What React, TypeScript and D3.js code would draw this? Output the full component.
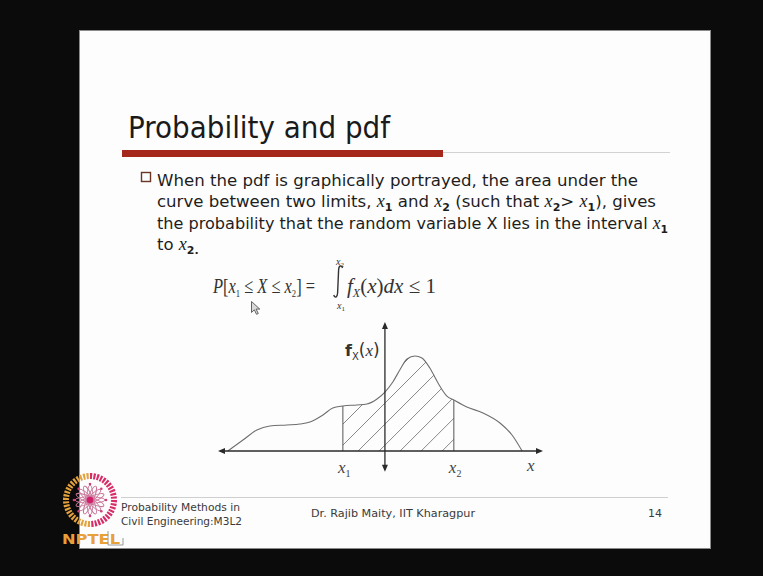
import React from "react";
import * as d3 from "d3";

const W = 763;
const H = 576;

// Density curve samples: position along the x axis and height of f_X(x)
const curveX = [-4.97, -4.49, -4.05, -3.64, -3.1, -2.69, -2.37, -1.96, -1.65, -1.33, -0.89, -0.57, -0.25, 0, 0.25, 0.47, 0.7, 0.95, 1.17, 1.42, 1.68, 1.96, 2.18, 2.59, 3.1, 3.64, 4.02, 4.34];
const curveY = [0, 0.085, 0.163, 0.194, 0.202, 0.209, 0.225, 0.279, 0.333, 0.349, 0.357, 0.364, 0.403, 0.457, 0.535, 0.628, 0.713, 0.736, 0.721, 0.643, 0.527, 0.426, 0.395, 0.341, 0.295, 0.217, 0.124, 0];

// Integration limits
const limitX1 = -1.33;
const limitX2 = 2.18;

// Axis extents (data units)
const axisXDomain = [-5.28, 5];
const axisYDomain = [-0.16, 1];

type Seg = { t: string; math?: boolean; sub?: string };

const titleText = "Probability and pdf";
const bodyLines: Seg[][] = [
  [{ t: "When the pdf is graphically portrayed, the area under the" }],
  [
    { t: "curve between two limits, " },
    { t: "x", math: true, sub: "1" },
    { t: " and " },
    { t: "x", math: true, sub: "2" },
    { t: " (such that " },
    { t: "x", math: true, sub: "2" },
    { t: "> " },
    { t: "x", math: true, sub: "1" },
    { t: "), gives" },
  ],
  [
    { t: "the probability that the random variable X lies in the interval " },
    { t: "x", math: true, sub: "1" },
  ],
  [{ t: "to " }, { t: "x", math: true, sub: "2." }],
];
const bodyWidths = [481, 499, 511, 0];

const footerLeft = ["Probability Methods in", "Civil Engineering:M3L2"];
const footerCenter = "Dr. Rajib Maity, IIT Kharagpur";
const pageNumber = "14";

const SANS = "'DejaVu Sans', Verdana, sans-serif";
const SERIF = "'Liberation Serif', 'Times New Roman', serif";

function BodyLine({ segs, x, y, width }: { segs: Seg[]; x: number; y: number; width: number }) {
  const parts: React.ReactNode[] = [];
  let pendingUp = false;
  segs.forEach((s, i) => {
    if (s.math) {
      parts.push(
        <tspan key={i + "m"} fontFamily={SERIF} fontStyle="italic" fontSize={18} dy={pendingUp ? -4 : undefined}>
          {s.t}
        </tspan>
      );
      pendingUp = false;
      if (s.sub) {
        parts.push(
          <tspan key={i + "s"} fontSize={11} fontWeight="bold" dy={4}>
            {s.sub}
          </tspan>
        );
        pendingUp = true;
      }
    } else {
      parts.push(
        <tspan key={i + "t"} dy={pendingUp ? -4 : undefined}>
          {s.t}
        </tspan>
      );
      pendingUp = false;
    }
  });
  return (
    <text
      x={x}
      y={y}
      fontFamily={SANS}
      fontSize={16.5}
      fill="#1e1e1e"
      textLength={width || undefined}
      lengthAdjust={width ? "spacingAndGlyphs" : undefined}
      xmlSpace="preserve"
    >
      {parts}
    </text>
  );
}

function Logo() {
  const cx = 90;
  const cy = 500;
  const segs = d3.range(0, 44);
  const step = (2 * Math.PI) / 44;
  const arc = d3.arc<any>().innerRadius(21).outerRadius(27);
  const petals = d3.range(0, 8);
  return (
    <g>
      <g transform={`translate(${cx},${cy})`}>
        {segs.map((i) => {
          const a0 = i * step;
          const left = a0 >= Math.PI;
          return (
            <path
              key={i}
              d={arc({ startAngle: a0, endAngle: a0 + step * 0.62 }) || ""}
              fill={left ? "#e3a23e" : "#d62c68"}
            />
          );
        })}
        {petals.map((i) => (
          <ellipse
            key={i}
            rx={15}
            ry={3.2}
            fill="none"
            stroke="#c9779a"
            strokeWidth={0.9}
            transform={`rotate(${i * 22.5})`}
          />
        ))}
        {petals.map((i) => {
          const a = (i * 45 * Math.PI) / 180;
          return <circle key={i} cx={16 * Math.cos(a)} cy={16 * Math.sin(a)} r={1.3} fill="#d0407a" />;
        })}
        <circle r={3.2} fill="#d21e68" />
      </g>
      <text x={62} y={544} fontFamily={SANS} fontWeight="bold" fontSize={14} fill="#e8a038" textLength={58} lengthAdjust="spacingAndGlyphs">
        NPTEL
      </text>
      <path d="M108 531 L108 545 L123 545 L123 538" fill="none" stroke="#9a9a9a" strokeWidth={1} />
    </g>
  );
}

export default function App() {
  const x = d3.scaleLinear().domain(axisXDomain).range([218, 543]);
  const y = d3.scaleLinear().domain([0, 1]).range([451, 322]);

  const pts: [number, number][] = curveX.map((v, i) => [v, curveY[i]]);
  const line = d3
    .line<[number, number]>()
    .x((d) => x(d[0]))
    .y((d) => y(d[1]))
    .curve(d3.curveMonotoneX);
  const area = d3
    .area<[number, number]>()
    .x((d) => x(d[0]))
    .y0(y(0))
    .y1((d) => y(d[1]))
    .curve(d3.curveMonotoneX);

  const h1 = curveY[curveX.indexOf(limitX1)];
  const h2 = curveY[curveX.indexOf(limitX2)];

  // diagonal hatch lines, spaced evenly along the baseline
  const hatchStep = 0.665;
  const hatchStarts = d3.range(-0.85 - hatchStep * 8, limitX2 + hatchStep, hatchStep);
  const rise = 150;

  const x0 = x(axisXDomain[0]);
  const x1e = x(axisXDomain[1]);
  const yTop = y(axisYDomain[1]);
  const yBot = y(axisYDomain[0]);
  const xo = x(0);
  const yo = y(0);
  const axisColor = "#2a2a2a";

  return (
    <svg width={W} height={H} style={{ position: "fixed", left: 0, top: 0 }} xmlns="http://www.w3.org/2000/svg">
      <defs>
        <clipPath id="under-curve">
          <path d={area(pts) || ""} />
        </clipPath>
        <clipPath id="between-limits">
          <rect x={x(limitX1)} y={0} width={x(limitX2) - x(limitX1)} height={H} />
        </clipPath>
      </defs>

      <rect x={0} y={0} width={W} height={H} fill="#0b0b0b" />
      <rect x={79.5} y={30.5} width={631} height={518} fill="#fdfdfd" stroke="#8a8a8a" strokeWidth={1} />

      {/* title */}
      <text x={128} y={138} fontFamily={SANS} fontSize={30} fill="#1a1a1a" textLength={262} lengthAdjust="spacingAndGlyphs">
        {titleText}
      </text>
      <line x1={443} x2={670} y1={152.5} y2={152.5} stroke="#d2d2d2" strokeWidth={1} />
      <rect x={122} y={150} width={321} height={7} fill="#a5261b" />

      {/* bullet */}
      <rect x={141.5} y={172.5} width={9} height={9} fill="none" stroke="#6b3526" strokeWidth={1.4} />
      {bodyLines.map((segs, i) => (
        <BodyLine key={i} segs={segs} x={157} y={186 + i * 21.3} width={bodyWidths[i]} />
      ))}

      {/* formula */}
      <g fill="#333" fontFamily={SERIF}>
        <text x={213} y={293} fontSize={21} textLength={102} lengthAdjust="spacingAndGlyphs">
          <tspan fontStyle="italic">P</tspan>
          <tspan>[</tspan>
          <tspan fontStyle="italic">x</tspan>
          <tspan fontSize={11} dy={4}>1</tspan>
          <tspan dy={-4}> ≤ </tspan>
          <tspan fontStyle="italic">X</tspan>
          <tspan> ≤ </tspan>
          <tspan fontStyle="italic">x</tspan>
          <tspan fontSize={11} dy={4}>2</tspan>
          <tspan dy={-4}>] =</tspan>
        </text>
        <path d="M342.5 268 C341.5 264.5 338.8 265.5 338.6 270 L337.6 293 C337.4 297.5 334.8 298.5 333.8 295" fill="none" stroke="#333" strokeWidth={1.4} />
        <text x={336} y={265} fontSize={10} fontStyle="italic">
          x<tspan fontSize={7} dy={2} fontStyle="normal">2</tspan>
        </text>
        <text x={337} y={309} fontSize={10} fontStyle="italic">
          x<tspan fontSize={7} dy={2} fontStyle="normal">1</tspan>
        </text>
        <text x={347} y={293} fontSize={21} textLength={89} lengthAdjust="spacingAndGlyphs">
          <tspan fontStyle="italic">f</tspan>
          <tspan fontSize={12} dy={4} fontStyle="italic">X</tspan>
          <tspan dy={-4}>(</tspan>
          <tspan fontStyle="italic">x</tspan>
          <tspan>)</tspan>
          <tspan fontStyle="italic">dx</tspan>
          <tspan> ≤ 1</tspan>
        </text>
      </g>

      {/* mouse pointer */}
      <path d="M0 0 L0 11 L2.8 8.3 L5 12.8 L6.8 12 L4.6 7.6 L8.3 7.6 Z" transform="translate(251.5,301.5)" fill="#d9d9d9" stroke="#555" strokeWidth={0.9} />

      {/* hatched probability region */}
      <g clipPath="url(#between-limits)">
        <g clipPath="url(#under-curve)">
          {hatchStarts.map((s, i) => (
            <line key={i} x1={x(s)} y1={yo} x2={x(s) + rise} y2={yo - rise} stroke="#7a7a7a" strokeWidth={0.9} />
          ))}
        </g>
      </g>

      {/* limit verticals */}
      <line x1={x(limitX1)} x2={x(limitX1)} y1={yo} y2={y(h1)} stroke="#555" strokeWidth={1} />
      <line x1={x(limitX2)} x2={x(limitX2)} y1={yo} y2={y(h2)} stroke="#555" strokeWidth={1} />

      {/* density curve */}
      <path d={line(pts) || ""} fill="none" stroke="#6e6e6e" strokeWidth={1.1} />

      {/* axes with arrowheads */}
      <line x1={x0 + 2} x2={x1e - 2} y1={yo} y2={yo} stroke={axisColor} strokeWidth={1.3} />
      <line x1={xo} x2={xo} y1={yTop + 2} y2={yBot - 2} stroke={axisColor} strokeWidth={1.3} />
      <path d={`M${x0} ${yo} L${x0 + 7} ${yo - 3} L${x0 + 7} ${yo + 3} Z`} fill={axisColor} />
      <path d={`M${x1e} ${yo} L${x1e - 7} ${yo - 3} L${x1e - 7} ${yo + 3} Z`} fill={axisColor} />
      <path d={`M${xo} ${yTop} L${xo - 3} ${yTop + 7} L${xo + 3} ${yTop + 7} Z`} fill={axisColor} />
      <path d={`M${xo} ${yBot} L${xo - 3} ${yBot - 7} L${xo + 3} ${yBot - 7} Z`} fill={axisColor} />

      {/* axis labels */}
      <text x={345} y={356} fill="#333" fontSize={17}>
        <tspan fontFamily={SANS} fontWeight="bold" fontSize={16}>f</tspan>
        <tspan fontFamily={SANS} fontSize={10} dy={4}>X</tspan>
        <tspan fontFamily={SANS} fontSize={17} dy={-4}>(</tspan>
        <tspan fontFamily={SERIF} fontStyle="italic">x</tspan>
        <tspan fontFamily={SANS}>)</tspan>
      </text>
      <text x={x(limitX1) - 5} y={473} fill="#444" fontFamily={SERIF} fontSize={17} fontStyle="italic">
        x<tspan fontSize={10} dy={4} fontStyle="normal">1</tspan>
      </text>
      <text x={x(limitX2) - 5} y={473} fill="#444" fontFamily={SERIF} fontSize={17} fontStyle="italic">
        x<tspan fontSize={10} dy={4} fontStyle="normal">2</tspan>
      </text>
      <text x={527} y={471} fill="#444" fontFamily={SERIF} fontSize={17} fontStyle="italic">
        x
      </text>

      {/* footer */}
      <line x1={121} x2={668} y1={497.5} y2={497.5} stroke="#cfcfcf" strokeWidth={1} />
      <g fill="#3a3a3a" fontFamily={SANS} fontSize={10.5}>
        <text x={121} y={511} textLength={119} lengthAdjust="spacingAndGlyphs">{footerLeft[0]}</text>
        <text x={121} y={525} textLength={121} lengthAdjust="spacingAndGlyphs">{footerLeft[1]}</text>
        <text x={311} y={517} textLength={164} lengthAdjust="spacingAndGlyphs">{footerCenter}</text>
        <text x={648} y={517} fontSize={11}>{pageNumber}</text>
      </g>

      <Logo />
    </svg>
  );
}
